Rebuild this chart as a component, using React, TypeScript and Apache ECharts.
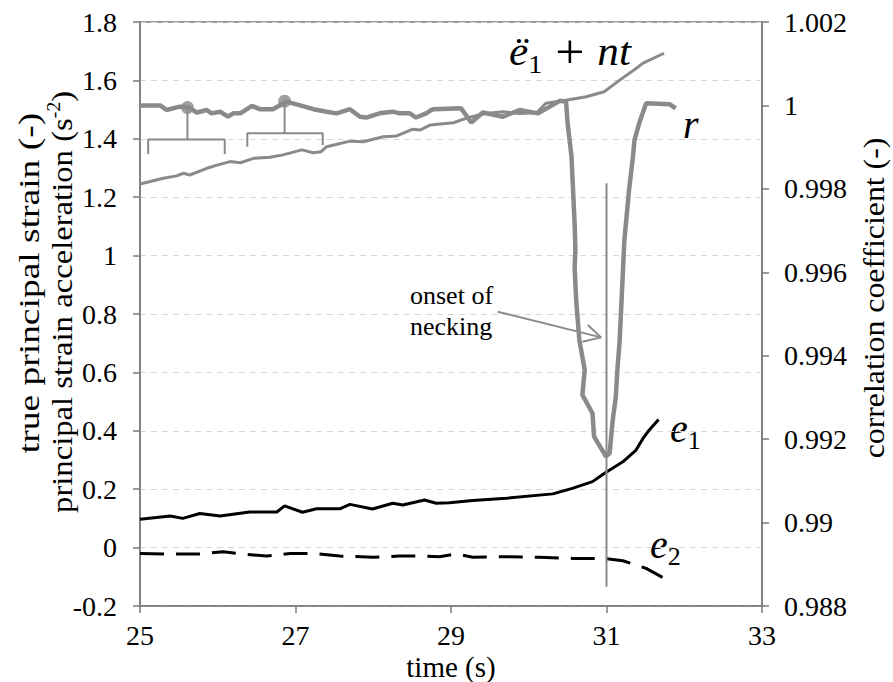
import React, { useEffect, useRef } from "react";
import * as echarts from "echarts";

// time (s) vs correlation coefficient r (right axis)
const rData: [number, number][] = [
  [25.0, 1.0], [25.26, 1.0], [25.34, 0.99989], [25.51, 0.99997], [25.62, 0.99996],
  [25.73, 0.99983], [25.86, 0.99989], [25.92, 0.99981], [26.03, 0.99985], [26.13, 0.99973],
  [26.2, 0.99981], [26.29, 0.99981], [26.44, 0.99999], [26.54, 0.99991], [26.71, 0.99991],
  [26.88, 1.00009], [27.06, 1.0], [27.23, 0.99991], [27.4, 0.99985], [27.53, 0.99981],
  [27.7, 0.99991], [27.83, 0.99973], [27.91, 0.99971], [28.08, 0.99981], [28.25, 0.99985],
  [28.34, 0.99981], [28.47, 0.99981], [28.55, 0.99971], [28.68, 0.99981], [28.73, 0.99987],
  [28.77, 0.99991], [29.13, 0.99993], [29.26, 0.99959], [29.41, 0.99983], [29.67, 0.99973],
  [29.88, 0.99989], [30.12, 0.99981], [30.4, 1.00011], [30.48, 1.00009],
  [30.5, 0.99957], [30.55, 0.99877], [30.57, 0.99797], [30.59, 0.99717], [30.6, 0.99653],
  [30.59, 0.99613], [30.61, 0.99534], [30.65, 0.99438], [30.72, 0.99366], [30.69, 0.99306],
  [30.82, 0.99262], [30.84, 0.99206], [30.97, 0.99166], [30.99, 0.99158],
  [31.04, 0.99166], [31.08, 0.99246], [31.12, 0.99302], [31.14, 0.99366], [31.17, 0.99438],
  [31.2, 0.99558], [31.23, 0.99677], [31.25, 0.99717], [31.29, 0.99797], [31.34, 0.99877],
  [31.36, 0.99917], [31.42, 0.99957], [31.51, 1.00005], [31.81, 1.00003], [31.89, 0.99993],
];

// principal strain acceleration + nt (left axis)
const accelData: [number, number][] = [
  [25.0, 1.245], [25.3, 1.265], [25.47, 1.273], [25.56, 1.282], [25.64, 1.276],
  [25.86, 1.299], [25.99, 1.31], [26.16, 1.322], [26.29, 1.318], [26.46, 1.333],
  [26.67, 1.337], [26.84, 1.345], [27.08, 1.362], [27.23, 1.352], [27.33, 1.356],
  [27.4, 1.373], [27.7, 1.392], [27.87, 1.39], [28.13, 1.407], [28.3, 1.41],
  [28.51, 1.433], [28.6, 1.43], [28.73, 1.447], [29.03, 1.455], [29.24, 1.474],
  [29.45, 1.487], [29.67, 1.493], [29.88, 1.487], [30.1, 1.489], [30.22, 1.522],
  [30.44, 1.53], [30.74, 1.544], [30.97, 1.561], [31.17, 1.601], [31.38, 1.641],
  [31.47, 1.659], [31.74, 1.693],
];

// true principal strain e1 (left axis)
const e1Data: [number, number][] = [
  [25.0, 0.097], [25.39, 0.108], [25.55, 0.1], [25.77, 0.117], [26.03, 0.108],
  [26.41, 0.122], [26.76, 0.122], [26.86, 0.143], [27.09, 0.121], [27.27, 0.133],
  [27.57, 0.133], [27.7, 0.148], [27.99, 0.132], [28.25, 0.152], [28.38, 0.146],
  [28.66, 0.163], [28.81, 0.152], [28.98, 0.154], [29.28, 0.161], [29.71, 0.169],
  [30.31, 0.184], [30.56, 0.203], [30.82, 0.226], [30.97, 0.254], [31.21, 0.294],
  [31.38, 0.334], [31.47, 0.374], [31.55, 0.403], [31.67, 0.439],
];

// true principal strain e2 (left axis)
const e2Data: [number, number][] = [
  [25.0, -0.02], [25.34, -0.022], [25.77, -0.022], [26.07, -0.014], [26.24, -0.02],
  [26.63, -0.029], [26.93, -0.02], [27.23, -0.02], [27.57, -0.029], [28.0, -0.033],
  [28.34, -0.029], [28.64, -0.029], [28.85, -0.031], [29.07, -0.022], [29.28, -0.033],
  [29.71, -0.031], [30.14, -0.033], [30.57, -0.037], [30.99, -0.038], [31.21, -0.045],
  [31.51, -0.071], [31.72, -0.102],
];

// onset of necking marker and arrow (left axis)
const neckLine: [number, number][] = [[31, 1.248], [31, -0.134]];
const arrowShaft: [number, number][] = [[29.6, 0.808], [30.93, 0.72]];
const arrowHead: [number, number][] = [[30.76, 0.762], [30.93, 0.72], [30.69, 0.705]];

// brackets over r curve (left axis)
const bracketA: [number, number][] = [[25.105, 1.348], [25.105, 1.398], [26.09, 1.398], [26.09, 1.348]];
const stemA: [number, number][] = [[25.61, 1.398], [25.61, 1.507]];
const bracketB: [number, number][] = [[26.38, 1.373], [26.38, 1.419], [27.35, 1.419], [27.35, 1.378]];
const stemB: [number, number][] = [[26.86, 1.419], [26.86, 1.529]];
const dots: [number, number][] = [[25.61, 1.507], [26.86, 1.529]];

const FONT = "Liberation Serif";
const GRAY = "#8a8a8a";
const AXIS = "#7a7a7a";

export default function App() {
  const ref = useRef<HTMLDivElement>(null);
  useEffect(() => {
    if (!ref.current) return;
    const chart = echarts.init(ref.current, undefined, { renderer: "svg" });
    const lineSeries = (data: any, color: string, width: number, extra: any = {}) => ({
      type: "line",
      data,
      showSymbol: false,
      symbol: "none",
      lineStyle: { color, width, ...(extra.lineStyle || {}) },
      yAxisIndex: extra.yAxisIndex || 0,
      z: extra.z || 2,
      silent: true,
    });
    const italicRich = {
      i: { fontFamily: FONT, fontStyle: "italic", fontSize: 40, lineHeight: 50, fill: "#000" },
      s: { fontFamily: FONT, fontSize: 26, lineHeight: 26, verticalAlign: "bottom", fill: "#000" },
      p: { fontFamily: FONT, fontSize: 48, lineHeight: 50, fill: "#000" },
    };
    chart.setOption({
      animation: false,
      textStyle: { fontFamily: FONT },
      grid: {
        left: 140, right: 131, top: 22, bottom: 76,
        show: true, borderColor: AXIS, borderWidth: 1.5, backgroundColor: "transparent",
      },
      xAxis: {
        type: "value", min: 25, max: 33, interval: 2,
        axisLine: { show: true, onZero: false, lineStyle: { color: AXIS, width: 1.5 } },
        axisTick: { show: true, length: 7, lineStyle: { color: AXIS, width: 1.5 } },
        axisLabel: { color: "#000", fontSize: 28, fontFamily: FONT, margin: 15 },
        splitLine: { show: false },
      },
      yAxis: [
        {
          type: "value", min: -0.2, max: 1.8, interval: 0.2, position: "left",
          axisLine: { show: true, onZero: false, lineStyle: { color: AXIS, width: 1.5 } },
          axisTick: { show: true, length: 7, lineStyle: { color: AXIS, width: 1.5 } },
          axisLabel: { color: "#000", fontSize: 28, fontFamily: FONT, margin: 23 },
          splitLine: { show: true, lineStyle: { color: "#d6d6d6", type: [6, 5], width: 1 } },
        },
        {
          type: "value", min: 0.988, max: 1.002, interval: 0.002, position: "right",
          axisLine: { show: true, onZero: false, lineStyle: { color: AXIS, width: 1.5 } },
          axisTick: { show: true, length: 7, lineStyle: { color: AXIS, width: 1.5 } },
          axisLabel: { color: "#000", fontSize: 28, fontFamily: FONT, margin: 22 },
          splitLine: { show: false },
        },
      ],
      series: [
        lineSeries(e2Data, "#000", 3, { lineStyle: { type: [24, 12] } }),
        lineSeries(e1Data, "#000", 3),
        lineSeries(neckLine, GRAY, 2),
        lineSeries(arrowShaft, GRAY, 2),
        lineSeries(arrowHead, GRAY, 2),
        lineSeries(bracketA, GRAY, 2),
        lineSeries(stemA, GRAY, 2),
        lineSeries(bracketB, GRAY, 2),
        lineSeries(stemB, GRAY, 2),
        lineSeries(accelData, GRAY, 3),
        lineSeries(rData, GRAY, 4.5, { yAxisIndex: 1, z: 3 }),
        {
          type: "scatter", data: dots, symbol: "circle", symbolSize: 13,
          itemStyle: { color: GRAY }, silent: true, z: 4,
        },
      ],
      graphic: [
        {
          type: "text", x: 509, y: 52, scaleX: 1.08,
          style: {
            text: "{i|ë}{s|1}{p| + }{i|nt}",
            textVerticalAlign: "middle", textAlign: "left", fill: "#000",
            rich: italicRich,
          },
        },
        {
          type: "text", x: 683, y: 124,
          style: { text: "{i|r}", textVerticalAlign: "middle", fill: "#000", rich: italicRich },
        },
        {
          type: "text", x: 670, y: 428,
          style: { text: "{i|e}{s|1}", textVerticalAlign: "middle", fill: "#000", rich: italicRich },
        },
        {
          type: "text", x: 650, y: 544,
          style: { text: "{i|e}{s|2}", textVerticalAlign: "middle", fill: "#000", rich: italicRich },
        },
        {
          type: "text", x: 410, y: 280,
          style: {
            text: "onset of\nnecking", fontFamily: FONT, fontSize: 26, lineHeight: 31,
            fill: "#000", textAlign: "left", textVerticalAlign: "top",
          },
        },
        {
          type: "text", x: 29, y: 283, rotation: Math.PI / 2, scaleX: 1.25,
          style: {
            text: "true principal strain (-)", fontFamily: FONT, fontSize: 30, fill: "#000",
            textAlign: "center", textVerticalAlign: "middle",
          },
        },
        {
          type: "text", x: 62, y: 302, rotation: Math.PI / 2, scaleX: 1.09,
          style: {
            text: "{a|principal strain acceleration (s}{b|-2}{a|)}",
            textAlign: "center", textVerticalAlign: "middle", fill: "#000",
            rich: {
              a: { fontFamily: FONT, fontSize: 30, lineHeight: 34, fill: "#000" },
              b: { fontFamily: FONT, fontSize: 18, lineHeight: 18, verticalAlign: "top", fill: "#000" },
            },
          },
        },
        {
          type: "text", x: 874, y: 298, rotation: Math.PI / 2, scaleX: 1.06,
          style: {
            text: "correlation coefficient (-)", fontFamily: FONT, fontSize: 30, fill: "#000",
            textAlign: "center", textVerticalAlign: "middle",
          },
        },
        {
          type: "text", x: 451, y: 667,
          style: {
            text: "time (s)", fontFamily: FONT, fontSize: 29, fill: "#000",
            textAlign: "center", textVerticalAlign: "middle",
          },
        },
      ],
    });
    return () => chart.dispose();
  }, []);
  return (
    <div
      ref={ref}
      style={{ position: "fixed", left: 0, top: 0, width: 893, height: 682, background: "#fff" }}
    />
  );
}
